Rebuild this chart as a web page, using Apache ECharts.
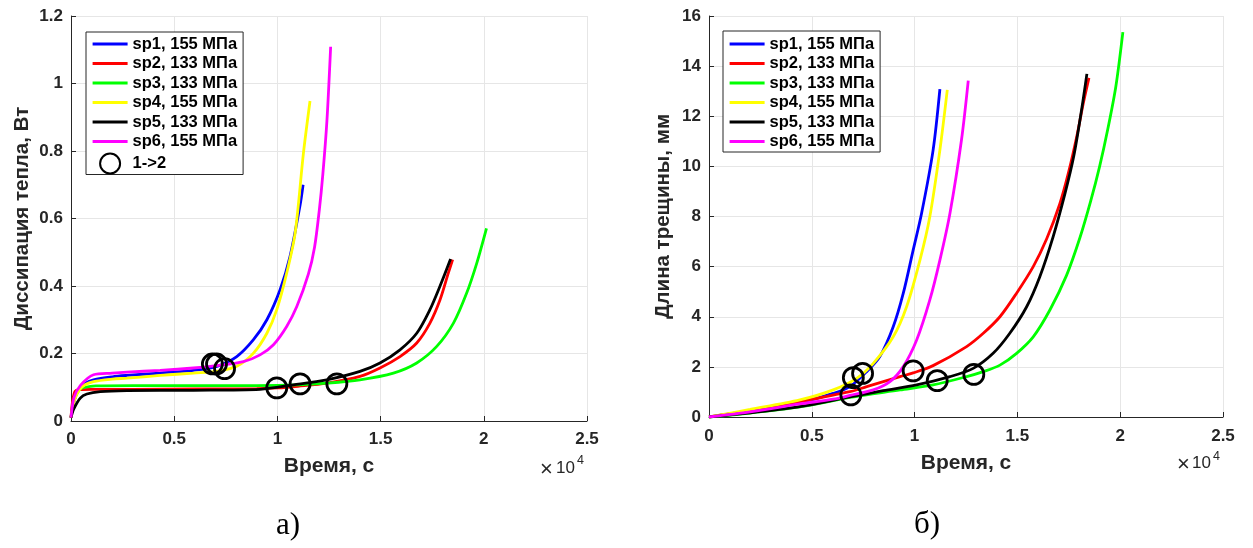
<!DOCTYPE html>
<html>
<head>
<meta charset="utf-8">
<script src="https://cdn.jsdelivr.net/npm/echarts@6/dist/echarts.min.js"></script>
<style>html,body{margin:0;padding:0;background:#fff}#c{width:1253px;height:548px}</style>
</head>
<body>
<div id="c"></div>
<script>
// ---- data: left panel (heat dissipation, W) ----
const sp1_tQ = [0, 150, 400, 700, 1090, 2000, 2710, 4320, 5930, 7070, 8030, 8840, 9490, 10130, 10610, 11100, 11245];
const sp1_Q  = [0.01, 0.06, 0.095, 0.112, 0.122, 0.131, 0.135, 0.142, 0.150, 0.162, 0.191, 0.241, 0.30, 0.389, 0.487, 0.64, 0.70];
const sp2_tQ = [0, 80, 200, 400, 1000, 3000, 6000, 9000, 10000, 11000, 12390, 14000, 14970, 15940, 16750, 17390, 17880, 18280, 18490];
const sp2_Q  = [0.01, 0.06, 0.088, 0.093, 0.094, 0.094, 0.095, 0.096, 0.098, 0.103, 0.112, 0.132, 0.157, 0.191, 0.231, 0.29, 0.359, 0.438, 0.478];
const sp3_tQ = [0, 150, 400, 700, 1200, 3000, 6000, 9000, 11000, 12390, 14000, 15620, 16750, 17720, 18530, 19170, 19660, 20130];
const sp3_Q  = [0.01, 0.06, 0.092, 0.100, 0.104, 0.105, 0.105, 0.105, 0.107, 0.112, 0.122, 0.142, 0.172, 0.221, 0.29, 0.379, 0.468, 0.571];
const sp4_tQ = [0, 150, 400, 700, 1090, 2000, 2710, 4320, 5930, 7070, 8030, 8840, 9490, 9970, 10450, 10860, 11260, 11580];
const sp4_Q  = [0.01, 0.058, 0.092, 0.108, 0.117, 0.124, 0.127, 0.135, 0.142, 0.147, 0.162, 0.201, 0.26, 0.33, 0.438, 0.557, 0.793, 0.948];
const sp5_tQ = [0, 130, 450, 770, 1420, 2710, 5930, 9160, 10770, 12390, 14000, 14970, 15940, 16750, 17390, 17880, 18390];
const sp5_Q  = [0.01, 0.035, 0.068, 0.080, 0.087, 0.09, 0.091, 0.094, 0.107, 0.122, 0.147, 0.172, 0.211, 0.26, 0.33, 0.40, 0.48];
const sp6_tQ = [0, 150, 450, 1090, 2000, 2710, 4320, 5930, 7070, 8350, 9160, 9810, 10450, 10940, 11500, 11800, 12030, 12200, 12400, 12580];
const sp6_Q  = [0.01, 0.07, 0.105, 0.137, 0.142, 0.145, 0.150, 0.157, 0.164, 0.176, 0.196, 0.226, 0.28, 0.339, 0.435, 0.515, 0.625, 0.73, 0.89, 1.109];
const mark_tQ = [6850, 7050, 7440, 9970, 11100, 12880];
const mark_Q  = [0.169, 0.169, 0.155, 0.098, 0.110, 0.110];

// ---- data: right panel (crack length, mm) ----
const sp1_tL = [0, 2000, 4420, 6040, 6850, 7670, 8310, 8960, 9450, 9930, 10340, 10900, 11230];
const sp1_L  = [0, 0.24, 0.57, 0.94, 1.21, 1.81, 2.41, 3.60, 4.94, 6.66, 8.13, 10.65, 13.08];
const sp2_tL = [0, 2000, 4420, 6850, 7670, 9290, 9930, 10900, 12530, 13340, 14150, 14960, 15770, 16420, 17060, 17500, 17890, 18200, 18480];
const sp2_L  = [0, 0.25, 0.61, 1.01, 1.21, 1.61, 1.76, 2.05, 2.81, 3.34, 4.0, 4.94, 6.0, 7.1, 8.5, 9.8, 11.2, 12.5, 13.53];
const sp3_tL = [0, 2000, 4420, 6850, 9290, 10900, 12530, 13340, 14150, 14960, 15770, 16580, 17390, 18040, 18560, 19000, 19400, 19790, 20130];
const sp3_L  = [0, 0.16, 0.40, 0.78, 1.08, 1.28, 1.61, 1.81, 2.07, 2.54, 3.20, 4.27, 5.65, 7.15, 8.6, 10.0, 11.5, 13.2, 15.36];
const sp4_tL = [0, 2000, 4420, 6040, 7180, 7990, 8960, 9610, 10260, 10740, 11230, 11590];
const sp4_L  = [0, 0.3, 0.68, 1.08, 1.54, 2.14, 3.20, 4.40, 6.26, 7.99, 10.65, 13.05];
const sp5_tL = [0, 2000, 4420, 6850, 8470, 10100, 11720, 12850, 13820, 14630, 15450, 16090, 16740, 17310, 17740, 18130, 18380];
const sp5_L  = [0, 0.17, 0.41, 0.80, 1.05, 1.28, 1.61, 1.94, 2.54, 3.34, 4.40, 5.60, 7.2, 8.9, 10.4, 12.3, 13.69];
const sp6_tL = [0, 2000, 4420, 6040, 6850, 7990, 8800, 9450, 10100, 10740, 11230, 11720, 12280, 12610];
const sp6_L  = [0, 0.2, 0.52, 0.71, 0.86, 1.08, 1.41, 2.01, 3.07, 4.67, 6.26, 8.13, 11.05, 13.42];
const mark_tL = [7020, 7470, 6900, 9930, 11100, 12880];
const mark_L  = [1.57, 1.74, 0.88, 1.84, 1.45, 1.70];

const names = ['sp1, 155 МПа', 'sp2, 133 МПа', 'sp3, 133 МПа', 'sp4, 155 МПа', 'sp5, 133 МПа', 'sp6, 155 МПа'];
const markName = '1->2';
const xTicks = [0, 5000, 10000, 15000, 20000, 25000];

const colors = ['#0000ff', '#ff0000', '#00ff00', '#ffff00', '#000000', '#ff00ff'];
const FF = '"Liberation Sans", Arial, sans-serif';
const AX = '#262626';

const zip = (a, b) => a.map((v, i) => [v, b[i]]);
const leftSets = [[sp1_tQ, sp1_Q], [sp2_tQ, sp2_Q], [sp3_tQ, sp3_Q], [sp4_tQ, sp4_Q], [sp5_tQ, sp5_Q], [sp6_tQ, sp6_Q]];
const rightSets = [[sp1_tL, sp1_L], [sp2_tL, sp2_L], [sp3_tL, sp3_L], [sp4_tL, sp4_L], [sp5_tL, sp5_L], [sp6_tL, sp6_L]];

function lineSeries(sets, idx) {
  return sets.map((s, i) => ({
    name: names[i], type: 'line', xAxisIndex: idx, yAxisIndex: idx,
    data: zip(s[0], s[1]), symbol: 'none', smooth: 0.3,
    lineStyle: { color: colors[i], width: 2.8 }, itemStyle: { color: colors[i] },
    emphasis: { disabled: true }, z: 2 + i
  }));
}
function markSeries(name, t, v, idx) {
  return {
    name: name, type: 'scatter', xAxisIndex: idx, yAxisIndex: idx,
    data: zip(t, v), symbol: 'circle', symbolSize: 20,
    itemStyle: { color: 'rgba(255,255,255,0)', borderColor: '#000', borderWidth: 2.8, opacity: 1 },
    emphasis: { disabled: true }, z: 20
  };
}
function xAx(idx, gap, margin) {
  return {
    type: 'value', gridIndex: idx, min: 0, max: 25000, interval: 5000,
    axisLine: { show: true, lineStyle: { color: AX, width: 1 } },
    axisTick: { show: true, inside: true, length: 5, lineStyle: { color: AX } },
    axisLabel: { margin: margin, fontSize: 17, fontWeight: 'bold', color: AX, fontFamily: FF,
      formatter: v => xTicks.indexOf(v) >= 0 ? String(v / 10000) : '' },
    splitLine: { show: true, lineStyle: { color: '#e6e6e6', width: 1 } },
    name: 'Время, с', nameLocation: 'middle', nameGap: gap,
    nameTextStyle: { fontSize: 21, fontWeight: 'bold', color: AX, fontFamily: FF }
  };
}
function yAx(idx, max, interval, name, gap) {
  return {
    type: 'value', gridIndex: idx, min: 0, max: max, interval: interval,
    axisLine: { show: true, lineStyle: { color: AX, width: 1 } },
    axisTick: { show: true, inside: true, length: 5, lineStyle: { color: AX } },
    axisLabel: { margin: 8, fontSize: 17, fontWeight: 'bold', color: AX, fontFamily: FF },
    splitLine: { show: true, lineStyle: { color: '#e6e6e6', width: 1 } },
    name: name, nameLocation: 'middle', nameGap: gap,
    nameTextStyle: { fontSize: 20.5, fontWeight: 'bold', color: AX, fontFamily: FF }
  };
}
const lineItems = names.map(n => ({ name: n, itemStyle: { opacity: 0 } }));
const legendBase = {
  orient: 'vertical', itemWidth: 35, itemHeight: 20, itemGap: 2.5,
  borderColor: AX, borderWidth: 1, backgroundColor: '#fff', selectedMode: false,
  lineStyle: { width: 3.2 },
  textStyle: { fontSize: 16.5, fontWeight: 'bold', color: '#000', fontFamily: FF }
};

const chart = echarts.init(document.getElementById('c'), null, { renderer: 'canvas' });
chart.setOption({
  animation: false,
  backgroundColor: '#fff',
  grid: [
    { left: 71, right: 666, top: 16, bottom: 127 },
    { left: 709, right: 30, top: 16, bottom: 131 }
  ],
  xAxis: [xAx(0, 35, 10), xAx(1, 36, 11)],
  yAxis: [yAx(0, 1.2, 0.2, 'Диссипация тепла, Вт', 38), yAx(1, 16, 2, 'Длина трещины, мм', 35)],
  legend: [
    Object.assign({}, legendBase, { data: lineItems.concat([{ name: markName }]), left: 86, top: 32, padding: [3.5, 6, 0, 5] }),
    Object.assign({}, legendBase, { data: lineItems.slice(), left: 723, top: 31, padding: [4.5, 6, 2, 5] })
  ],
  series: lineSeries(leftSets, 0).concat([markSeries(markName, mark_tQ, mark_Q, 0)])
    .concat(lineSeries(rightSets, 1)).concat([markSeries('marks right', mark_tL, mark_L, 1)]),
  graphic: [
    { type: 'text', left: 540, top: 459, style: { text: '×', fontSize: 22, fontFamily: FF, fill: AX } },
    { type: 'text', left: 556, top: 460, style: { text: '10', fontSize: 17, fontFamily: FF, fill: AX } },
    { type: 'text', left: 577, top: 454, style: { text: '4', fontSize: 12.5, fontFamily: FF, fill: AX } },
    { type: 'text', left: 1177, top: 454, style: { text: '×', fontSize: 22, fontFamily: FF, fill: AX } },
    { type: 'text', left: 1192, top: 455, style: { text: '10', fontSize: 17, fontFamily: FF, fill: AX } },
    { type: 'text', left: 1213, top: 450, style: { text: '4', fontSize: 12.5, fontFamily: FF, fill: AX } },
    { type: 'text', left: 276, top: 510, style: { text: 'а)', fontSize: 31, fontFamily: '"Liberation Serif", "Times New Roman", serif', fill: '#000' } },
    { type: 'text', left: 914, top: 509, style: { text: 'б)', fontSize: 31, fontFamily: '"Liberation Serif", "Times New Roman", serif', fill: '#000' } }
  ]
});
</script>
</body>
</html>
